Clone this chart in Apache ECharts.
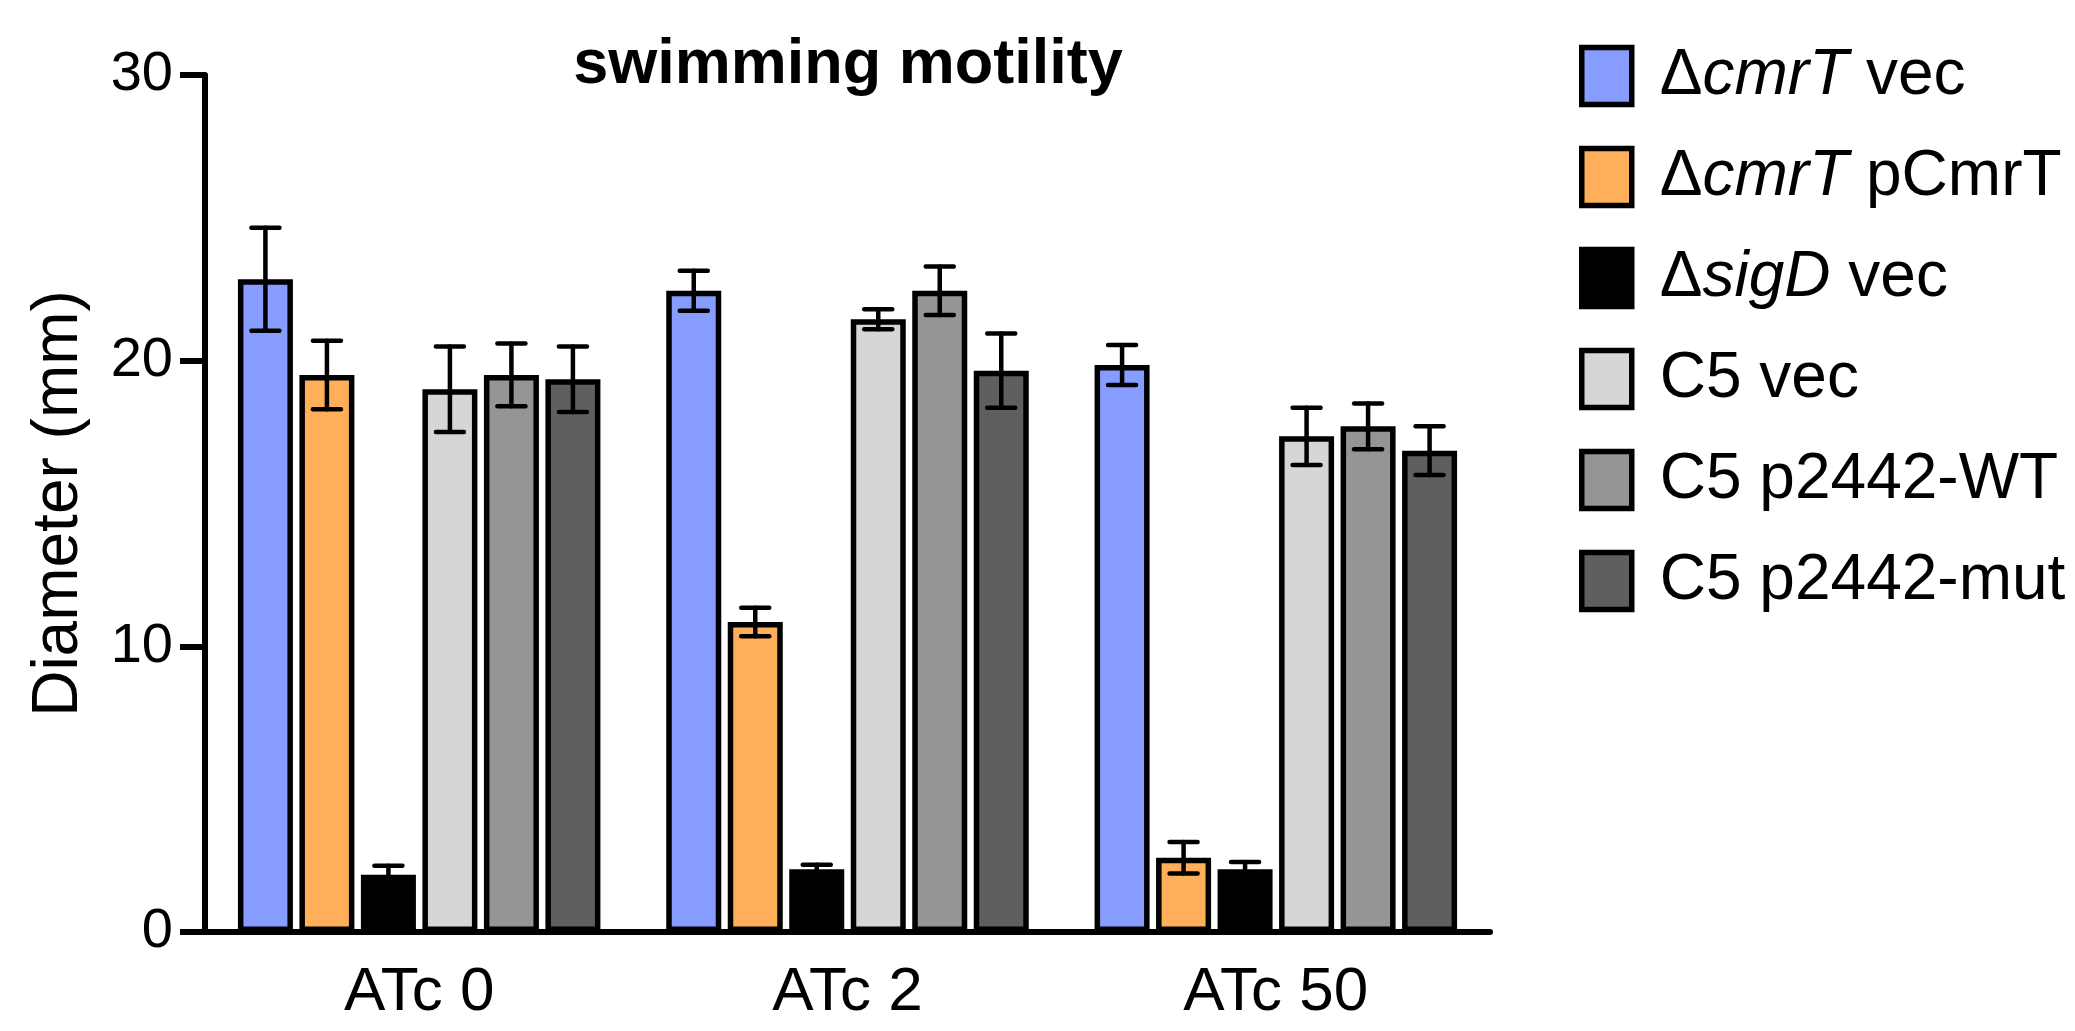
<!DOCTYPE html>
<html>
<head>
<meta charset="utf-8">
<script src="https://cdn.jsdelivr.net/npm/echarts@6/dist/echarts.min.js"></script>
<style>
html,body{margin:0;padding:0;background:#fff;}
#chart{width:2075px;height:1031px;}
</style>
</head>
<body>
<div id="chart"></div>
<script>
// ---- data ----
const categories = ['ATc 0', 'ATc 2', 'ATc 50'];
const seriesNames = ['ΔcmrT vec', 'ΔcmrT pCmrT', 'ΔsigD vec', 'C5 vec', 'C5 p2442-WT', 'C5 p2442-mut'];
const cmrTVec      = [22.85, 22.45, 19.85];
const cmrTpCmrT    = [19.5, 10.85, 2.6];
const sigDVec      = [2.0, 2.2, 2.2];
const c5Vec        = [19.0, 21.45, 17.35];
const c5WT         = [19.5, 22.45, 17.7];
const c5Mut        = [19.35, 19.65, 16.85];
const cmrTVecErr   = [1.8, 0.7, 0.7];
const cmrTpCmrTErr = [1.2, 0.5, 0.55];
const sigDVecErr   = [0.32, 0.15, 0.25];
const c5VecErr     = [1.5, 0.35, 1.0];
const c5WTErr      = [1.1, 0.85, 0.8];
const c5MutErr     = [1.15, 1.3, 0.85];
const yTicks = [0, 10, 20, 30];

const means = [cmrTVec, cmrTpCmrT, sigDVec, c5Vec, c5WT, c5Mut];
const errs = [cmrTVecErr, cmrTpCmrTErr, sigDVecErr, c5VecErr, c5WTErr, c5MutErr];
const colors = ['#869DFF', '#FFAF5A', '#000000', '#D6D6D6', '#959595', '#5F5F5F'];

const FONT = 'Liberation Sans';
const BAR_W = 55;
const PITCH = 61.5;
const BAR_GAP_PCT = ((PITCH - BAR_W) / BAR_W * 100).toFixed(2) + '%';

const legendRich = {
  'ΔcmrT vec': '{n|Δ}{i|cmrT}{n| vec}',
  'ΔcmrT pCmrT': '{n|Δ}{i|cmrT}{n| pCmrT}',
  'ΔsigD vec': '{n|Δ}{i|sigD}{n| vec}'
};

const barSeries = seriesNames.map((name, i) => ({
  name: name,
  type: 'bar',
  data: means[i],
  barWidth: BAR_W,
  barGap: BAR_GAP_PCT,
  itemStyle: { color: colors[i], borderColor: '#000', borderWidth: 5.5 },
  z: 2,
  animation: false
}));

const errData = [];
for (let s = 0; s < seriesNames.length; s++) {
  for (let c = 0; c < categories.length; c++) {
    errData.push([s, c, means[s][c], errs[s][c]]);
  }
}

const errSeries = {
  type: 'custom',
  name: 'err',
  z: 5,
  animation: false,
  encode: { x: 1, y: 2 },
  data: errData,
  renderItem: function (params, api) {
    const s = api.value(0), c = api.value(1), m = api.value(2), e = api.value(3);
    const cx = api.coord([c, m])[0] + (s - (seriesNames.length - 1) / 2) * PITCH;
    const yt = api.coord([c, m + e])[1];
    const yb = api.coord([c, m - e])[1];
    const hw = 14;
    const st = { stroke: '#000', lineWidth: 4.5, lineCap: 'round' };
    return {
      type: 'group',
      children: [
        { type: 'line', shape: { x1: cx, y1: yt, x2: cx, y2: yb }, style: st },
        { type: 'line', shape: { x1: cx - hw, y1: yt, x2: cx + hw, y2: yt }, style: st },
        { type: 'line', shape: { x1: cx - hw, y1: yb, x2: cx + hw, y2: yb }, style: st }
      ]
    };
  }
};

const chart = echarts.init(document.getElementById('chart'), null, { renderer: 'canvas' });
chart.setOption({
  animation: false,
  backgroundColor: '#fff',
  title: {
    text: 'swimming motility',
    left: 843,
    textAlign: 'center',
    top: 29,
    textStyle: { fontFamily: FONT, fontSize: 63, fontWeight: 'bold', color: '#000' }
  },
  grid: { left: 205, right: 585, top: 75, bottom: 99, containLabel: false },
  legend: {
    data: seriesNames,
    orient: 'vertical',
    left: 1579,
    top: 44,
    padding: 0,
    icon: 'rect',
    itemWidth: 50,
    itemHeight: 57,
    itemGap: 37,
    selectedMode: false,
    itemStyle: { borderColor: '#000', borderWidth: 5.5 },
    formatter: function (name) { return legendRich[name] || ('{n|' + name + '}'); },
    textStyle: {
      fontFamily: FONT, fontSize: 64, color: '#000', lineHeight: 57,
      padding: [0, 0, 0, 23],
      rich: {
        n: { fontFamily: FONT, fontSize: 64, color: '#000', lineHeight: 57 },
        i: { fontFamily: FONT, fontSize: 64, color: '#000', fontStyle: 'italic', lineHeight: 57 }
      }
    }
  },
  xAxis: {
    type: 'category',
    data: categories,
    axisLine: { lineStyle: { color: '#000', width: 6 } },
    axisTick: { alignWithLabel: true, length: 24, lineStyle: { color: '#000', width: 6 } },
    axisLabel: { fontFamily: FONT, fontSize: 62, color: '#000', margin: 30 },
    splitLine: { show: false }
  },
  yAxis: {
    type: 'value',
    min: yTicks[0],
    max: yTicks[yTicks.length - 1],
    interval: 10,
    name: 'Diameter (mm)',
    nameLocation: 'middle',
    nameGap: 114,
    nameTextStyle: { fontFamily: FONT, fontSize: 64, color: '#000' },
    axisLine: { show: true, lineStyle: { color: '#000', width: 6 } },
    axisTick: { show: true, length: 25, lineStyle: { color: '#000', width: 6 } },
    axisLabel: { fontFamily: FONT, fontSize: 56, color: '#000', margin: 32 },
    splitLine: { show: false }
  },
  series: barSeries.concat([errSeries])
});
</script>
</body>
</html>
